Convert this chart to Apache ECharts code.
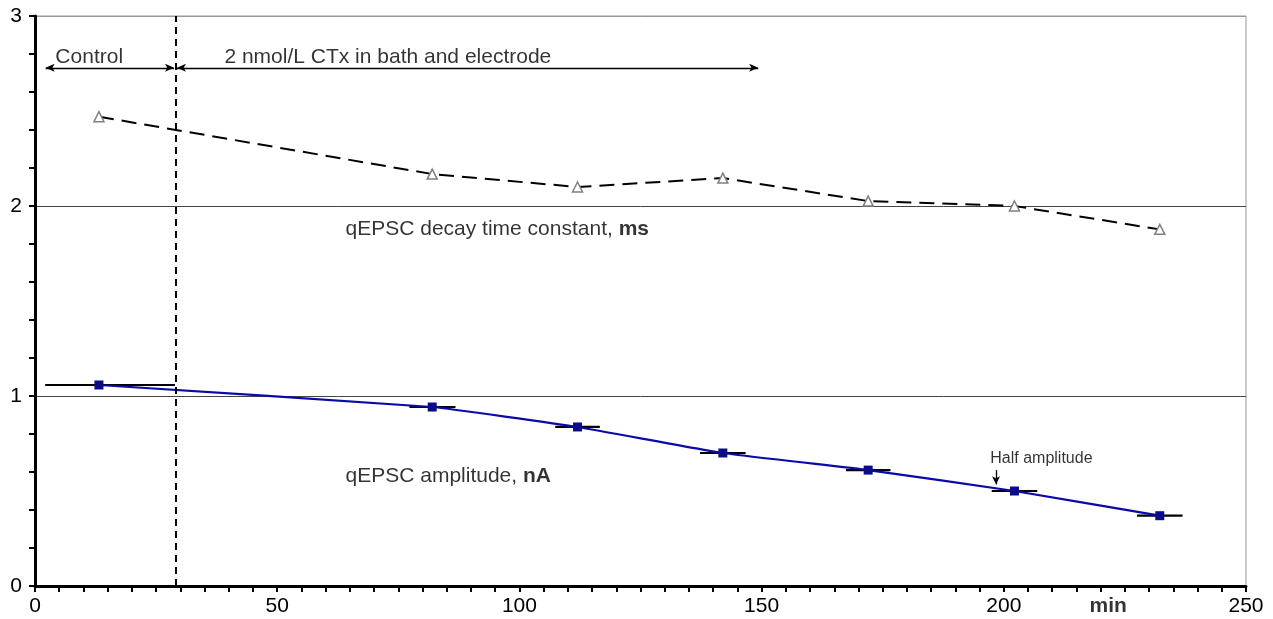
<!DOCTYPE html>
<html>
<head>
<meta charset="utf-8">
<script src="https://cdn.jsdelivr.net/npm/echarts@6/dist/echarts.min.js"></script>
<style>
html,body{margin:0;padding:0;background:#fff;}
#chart{width:1273px;height:619px;}
</style>
</head>
<body>
<div id="chart"></div>
<script>
// ---- data ----
const timeMin = [13.2, 82, 112, 142, 172, 202.2, 232.2];
const decayMs = [2.47, 2.168, 2.10, 2.147, 2.026, 2.0, 1.877];
const amplitudeNA = [1.058, 0.942, 0.837, 0.70, 0.61, 0.50, 0.37];
const ampErrLow = [2.1, 77.3, 107.4, 137.3, 167.4, 197.5, 227.5];
const ampErrHigh = [28.9, 86.8, 116.6, 146.7, 176.6, 206.9, 236.9];
const xTicks = [0, 50, 100, 150, 200, 250];
const yTicks = [0, 1, 2, 3];
const treatmentStart = 29;
const controlStart = 2.2;
const treatmentEnd = 149.3;
const periodArrowY = 2.727;

const FONT = 'Liberation Sans, Arial, sans-serif';
const TXT = '#000';

const chart = echarts.init(document.getElementById('chart'), null, {renderer: 'canvas'});

const decayData = timeMin.map((t, i) => [t, decayMs[i]]);
const ampData = timeMin.map((t, i) => [t, amplitudeNA[i]]);
const errData = timeMin.map((t, i) => [ampErrLow[i], ampErrHigh[i], amplitudeNA[i]]);

const annotations = [
  {value: [4.1, 2.784], label: {formatter: 'Control'}},
  {value: [39.0, 2.784], label: {formatter: '2 nmol/L CTx in bath and electrode'}},
  {value: [64.0, 1.88], label: {formatter: '{n|qEPSC decay time constant, }{b|ms}'}},
  {value: [64.0, 0.58], label: {formatter: '{n|qEPSC amplitude, }{b|nA}'}},
  {value: [197.1, 0.668], label: {formatter: 'Half amplitude', fontSize: 16}},
  {value: [217.6, -0.105], label: {formatter: '{b|min}'}}
];

const arrowEnd = {symbol: 'arrow', symbolSize: [6, 9]};

chart.setOption({
  animation: false,
  backgroundColor: '#fff',
  grid: {left: 35, right: 27, top: 16, bottom: 33, show: true, borderColor: '#999', borderWidth: 1},
  xAxis: {
    type: 'value', min: xTicks[0], max: xTicks[xTicks.length - 1], interval: 50,
    axisLine: {show: true, onZero: false, lineStyle: {color: '#000', width: 3}},
    axisTick: {show: true, length: 6, lineStyle: {color: '#000', width: 2}},
    minorTick: {show: true, splitNumber: 10, length: 6, lineStyle: {color: '#000', width: 2}},
    axisLabel: {fontSize: 21, color: TXT, fontFamily: FONT, margin: 10, showMaxLabel: true},
    splitLine: {show: false}
  },
  yAxis: {
    type: 'value', min: yTicks[0], max: yTicks[yTicks.length - 1], interval: 1,
    axisLine: {show: true, lineStyle: {color: '#000', width: 3}},
    axisTick: {show: true, length: 6, lineStyle: {color: '#000', width: 2}},
    minorTick: {show: true, splitNumber: 5, length: 6, lineStyle: {color: '#000', width: 2}},
    axisLabel: {fontSize: 21, color: TXT, fontFamily: FONT, margin: 13},
    splitLine: {show: true, lineStyle: {color: ['#000', '#444', '#444', '#999'], width: 1}}
  },
  series: [
    {
      name: 'errors', type: 'custom', z: 3, silent: true,
      renderItem: function (params, api) {
        const p1 = api.coord([api.value(0), api.value(2)]);
        const p2 = api.coord([api.value(1), api.value(2)]);
        return {type: 'line', shape: {x1: p1[0], y1: p1[1], x2: p2[0], y2: p2[1]},
                style: {stroke: '#000', lineWidth: 2.2}};
      },
      data: errData
    },
    {
      name: 'amplitude', type: 'line', data: ampData, z: 4, smooth: 0.12,
      symbol: 'rect', symbolSize: 9,
      lineStyle: {color: '#0a0aa8', width: 2.2},
      itemStyle: {color: '#0c0c8a', borderColor: '#0c0c8a', borderWidth: 0}
    },
    {
      name: 'decay', type: 'line', data: decayData, z: 4,
      symbol: 'triangle', symbolSize: 10, showAllSymbol: true,
      lineStyle: {color: '#000', width: 2, type: [15, 8]},
      itemStyle: {color: '#fff', borderColor: '#808080', borderWidth: 1.5}
    },
    {
      name: 'annotations', type: 'scatter', z: 5, silent: true, clip: false,
      symbolSize: 1, itemStyle: {color: 'transparent'},
      label: {
        show: true, position: 'right', distance: 0, color: TXT, fontSize: 21, fontFamily: FONT,
        rich: {
          n: {fontSize: 21, fontFamily: FONT, color: TXT},
          b: {fontSize: 21, fontFamily: FONT, color: TXT, fontWeight: 'bold'}
        }
      },
      data: annotations,
      markLine: {
        silent: true, animation: false, symbol: 'none',
        label: {show: false},
        lineStyle: {color: '#000', width: 1.3, type: 'solid'},
        data: [
          [{coord: [treatmentStart, 0], lineStyle: {color: '#000', width: 2, type: [7, 5]}}, {coord: [treatmentStart, 3]}],
          [Object.assign({coord: [controlStart, periodArrowY]}, arrowEnd), Object.assign({coord: [treatmentStart - 0.3, periodArrowY]}, arrowEnd)],
          [Object.assign({coord: [treatmentStart + 0.3, periodArrowY]}, arrowEnd), Object.assign({coord: [treatmentEnd, periodArrowY]}, arrowEnd)],
          [{coord: [198.4, 0.61], symbol: 'none'}, {coord: [198.4, 0.535], symbol: 'arrow', symbolSize: [6, 8]}]
        ]
      }
    }
  ]
});
</script>
</body>
</html>
